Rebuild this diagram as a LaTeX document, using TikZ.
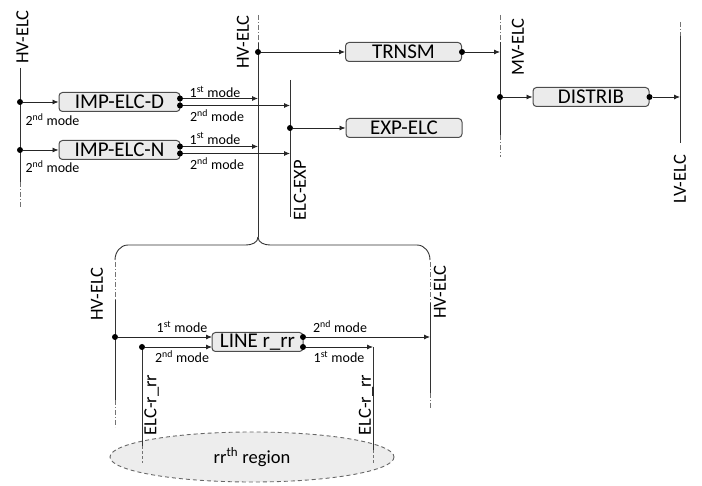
\documentclass[tikz,border=0pt]{standalone}
\usepackage{fontspec}
\setmainfont{Carlito}
\usetikzlibrary{arrows.meta}
\begin{document}
\begin{tikzpicture}[x=1pt,y=-1pt,
 bus/.style={line width=0.9pt, draw=black!80},
 busdd/.style={line width=0.9pt, draw=black!55, dash pattern=on 5pt off 2pt on 1pt off 2pt},
 busdash/.style={line width=0.9pt, draw=black!55, dash pattern=on 3pt off 2pt},
 box/.style={draw=black!70, fill=black!8, rounded corners=3.5pt, line width=1pt, minimum height=19pt, inner sep=0pt, font=\fontsize{21}{24}\selectfont},
 arr/.style={line width=0.8pt, draw=black!85, -{Latex[length=6pt,width=5pt]}},
 dot/.style={circle, fill=black, inner sep=0pt, minimum size=6pt},
 lbl/.style={font=\fontsize{18.5}{21}\selectfont, rotate=90, inner sep=0pt},
 mode/.style={font=\fontsize{14}{16}\selectfont, inner sep=0pt},
]
\useasboundingbox (0,0) rectangle (702,486);

% ---------- ellipse (region) ----------
\path[draw=black!60, dash pattern=on 4pt off 3pt, line width=0.9pt, fill=black!7] (252,457) ellipse [x radius=142, y radius=25];
\node[font=\fontsize{18.5}{21}\selectfont] (regtxt) at (252,457) {rr\textsuperscript{th} region};

% ---------- buses ----------
% top-left HV-ELC
\coordinate (L1a) at (20,68);
\coordinate (L1b) at (20,182);
\coordinate (L1c) at (20,208);
\draw[bus] (L1a) -- (L1b);
\draw[busdd] (L1b) -- (L1c);
\node[lbl] (L1lbl) at (22.5,37) {HV-ELC};

% centre HV-ELC
\coordinate (C1a) at (258,15);
\coordinate (C1b) at (258,43);
\coordinate (C1c) at (258,237);
\draw[busdd] (C1a) -- (C1b);
\draw[bus] (C1b) -- (C1c);
\node[lbl] (C1lbl) at (243,42) {HV-ELC};

% ELC-EXP
\coordinate (Ea) at (290,80);
\coordinate (Eb) at (290,217);
\draw[bus] (Ea) -- (Eb);
\node[lbl] (Elbl) at (300,190) {ELC-EXP};

% MV-ELC
\coordinate (Ma) at (500,15);
\coordinate (Mb) at (500,42);
\coordinate (Mc) at (500,135);
\coordinate (Md) at (500,157);
\draw[busdd] (Ma) -- (Mb);
\draw[bus] (Mb) -- (Mc);
\draw[busdd] (Mc) -- (Md);
\node[lbl] (Mlbl) at (518,47) {MV-ELC};

% LV-ELC
\coordinate (Va) at (680,22);
\coordinate (Vb) at (680,36);
\coordinate (Vc) at (680,143);
\draw[busdd] (Va) -- (Vb);
\draw[bus] (Vb) -- (Vc);
\node[lbl] (Vlbl) at (680,179) {LV-ELC};

% brace
\coordinate (BrL) at (115,260);
\coordinate (BrR) at (430,260);
\draw[bus] (BrL) to[out=90,in=180] (128,245) -- (246,245) to[out=0,in=270] (C1c);
\draw[bus] (BrR) to[out=90,in=0] (417,245) -- (270,245) to[out=180,in=270] (C1c);

% lower-left HV-ELC
\coordinate (LLa) at (115,262);
\coordinate (LLb) at (115,300);
\coordinate (LLc) at (115,400);
\coordinate (LLd) at (115,427);
\draw[busdd] (LLa) -- (LLb);
\draw[bus] (LLb) -- (LLc);
\draw[busdd] (LLc) -- (LLd);
\node[lbl] (LLlbl) at (97,294) {HV-ELC};

% lower-right HV-ELC
\coordinate (LRa) at (430,262);
\coordinate (LRb) at (430,303);
\coordinate (LRc) at (430,393);
\coordinate (LRd) at (430,408);
\draw[busdd] (LRa) -- (LRb);
\draw[bus] (LRb) -- (LRc);
\draw[busdd] (LRc) -- (LRd);
\node[lbl] (LRlbl) at (440,292) {HV-ELC};

% ELC-r_rr buses
\coordinate (ELa) at (142,347);
\coordinate (ELb) at (142,446);
\coordinate (ELc) at (142,463);
\draw[bus] (ELa) -- (ELb);
\draw[busdash] (ELb) -- (ELc);
\node[lbl] (ELlbl) at (151.5,405) {ELC-r\_rr};

\coordinate (ERa) at (373,347);
\coordinate (ERb) at (373,450);
\coordinate (ERc) at (373,463);
\draw[bus] (ERa) -- (ERb);
\draw[busdash] (ERb) -- (ERc);
\node[lbl] (ERlbl) at (366,405) {ELC-r\_rr};

% ---------- boxes ----------
\node[box, minimum width=121pt] (D) at (119.5,102) {IMP-ELC-D};
\node[box, minimum width=121pt] (N) at (119.5,150) {IMP-ELC-N};
\node[box, minimum width=116pt] (T) at (403.5,52) {TRNSM};
\node[box, minimum width=116pt] (X) at (404,128) {EXP-ELC};
\node[box, minimum width=116pt] (S) at (591,97) {DISTRIB};
\node[box, minimum width=91pt] (R) at (257.5,342) {LINE r\_rr};

% ---------- top connectors ----------
\node[dot] (dD) at (20,102) {};
\node[dot] (dN) at (20,150) {};
\draw[arr] (dD) -- (D);
\draw[arr] (dN) -- (N);
\node[mode] (mD0) at (52.5,120) {2\textsuperscript{nd} mode};
\node[mode] (mN0) at (52.5,167) {2\textsuperscript{nd} mode};

\node[dot] (dD1) at (180,98.5) {};
\node[dot] (dD2) at (180,105.5) {};
\coordinate (hD1) at (258,98.5);
\coordinate (eD2) at (290,105.5);
\draw[arr] (dD1) -- (hD1);
\draw[arr] (dD2) -- (eD2);
\node[mode] (mD1) at (215,92) {1\textsuperscript{st} mode};
\node[mode] (mD2) at (217,115.5) {2\textsuperscript{nd} mode};

\node[dot] (dN1) at (180,146.5) {};
\node[dot] (dN2) at (180,153.5) {};
\coordinate (hN1) at (258,146.5);
\coordinate (eN2) at (290,153.5);
\draw[arr] (dN1) -- (hN1);
\draw[arr] (dN2) -- (eN2);
\node[mode] (mN1) at (215,138.5) {1\textsuperscript{st} mode};
\node[mode] (mN2) at (217,163.5) {2\textsuperscript{nd} mode};

\node[dot] (dT0) at (258,52) {};
\draw[arr] (dT0) -- (T);
\node[dot] (dX0) at (290,128) {};
\draw[arr] (dX0) -- (X);
\node[dot] (dT1) at (T.east) {};
\coordinate (mT) at (500,52);
\draw[arr] (dT1) -- (mT);
\node[dot] (dS0) at (500,97) {};
\draw[arr] (dS0) -- (S);
\node[dot] (dS1) at (S.east) {};
\coordinate (vS) at (680,97);
\draw[arr] (dS1) -- (vS);

% ---------- lower connectors ----------
\node[dot] (dR0) at (115,337) {};
\coordinate (rIn1) at (212,337);
\draw[arr] (dR0) -- (rIn1);
\node[dot] (dR00) at (ELa) {};
\coordinate (rIn2) at (212,347);
\draw[arr] (dR00) -- (rIn2);
\node[mode] (mR1) at (182,327) {1\textsuperscript{st} mode};
\node[mode] (mR2) at (182,357) {2\textsuperscript{nd} mode};

\node[dot] (dR1) at (303,337) {};
\node[dot] (dR2) at (303,347) {};
\coordinate (rOut1) at (430,337);
\draw[arr] (dR1) -- (rOut1);
\draw[arr] (dR2) -- (ERa);
\node[mode] (mR3) at (340,327) {2\textsuperscript{nd} mode};
\node[mode] (mR4) at (339,357) {1\textsuperscript{st} mode};
\end{tikzpicture}
\end{document}
